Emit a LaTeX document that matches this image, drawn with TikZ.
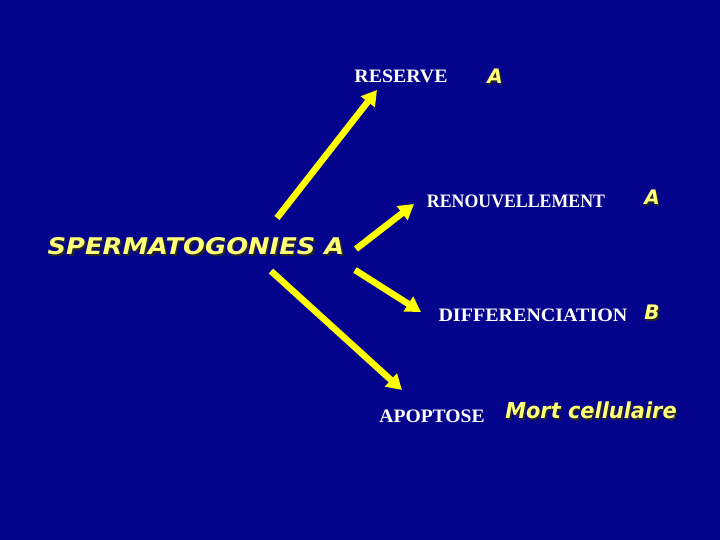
\documentclass[tikz,border=0pt]{standalone}
\usepackage{fontspec}
\setmainfont{Liberation Serif}
\newfontfamily\comicf{DejaVu Sans}
\usetikzlibrary{arrows.meta}
\definecolor{bg}{RGB}{4,4,140}
\definecolor{arrowy}{RGB}{255,255,0}
\definecolor{lbly}{RGB}{255,255,120}
\newcommand\shtxt[1]{\makebox[0pt][l]{\hspace{1.6pt}\raisebox{-1.6pt}{\textcolor{black!85}{#1}}}#1}
\tikzset{
  lbl/.style={text=white,font=\bfseries\fontsize{19}{21}\selectfont,inner sep=0pt},
  yl/.style={text=lbly,font=\comicf\bfseries\itshape\fontsize{#1}{#1}\selectfont,inner sep=0pt},
  arr/.style={draw=arrowy,line width=6.5pt,-{Triangle[width=17pt,length=15pt]}}
}
\begin{document}
\begin{tikzpicture}[x=1pt,y=-1pt]
\fill[bg] (0,0) rectangle (720,540);
\useasboundingbox (0,0) rectangle (720,540);
% white labels
\node[lbl] (res) at (401,76) {\scalebox{1.045}[1]{RESERVE}};
\node[lbl] (ren) at (516,201) {\scalebox{0.937}[1]{RENOUVELLEMENT}};
\node[lbl] (dif) at (533,315) {\scalebox{1.055}[1]{DIFFERENCIATION}};
\node[lbl] (apo) at (432,416) {\scalebox{1.03}[1]{APOPTOSE}};
% yellow labels with shadow
\node[yl=20] (a1) at (495,77) {\shtxt{A}};
\node[yl=20] (a2) at (652,198) {\shtxt{A}};
\node[yl=20] (b1) at (652,313) {\shtxt{B}};
\node[yl=23] (sp) at (196,247) {\scalebox{1.12}[1]{\shtxt{SPERMATOGONIES A}}};
\node[yl=22] (mc) at (591,411) {\scalebox{0.95}[1]{\shtxt{Mort cellulaire}}};
% arrows
\coordinate (s1) at (277,218);
\coordinate (e1) at (377,90);
\coordinate (s2) at (356,249);
\coordinate (e2) at (414,204);
\coordinate (s3) at (355,270);
\coordinate (e3) at (421,312);
\coordinate (s4) at (271,271);
\coordinate (e4) at (402,390);
\draw[arr] (s1) -- (e1);
\draw[arr] (s2) -- (e2);
\draw[arr] (s3) -- (e3);
\draw[arr] (s4) -- (e4);
\end{tikzpicture}
\end{document}
